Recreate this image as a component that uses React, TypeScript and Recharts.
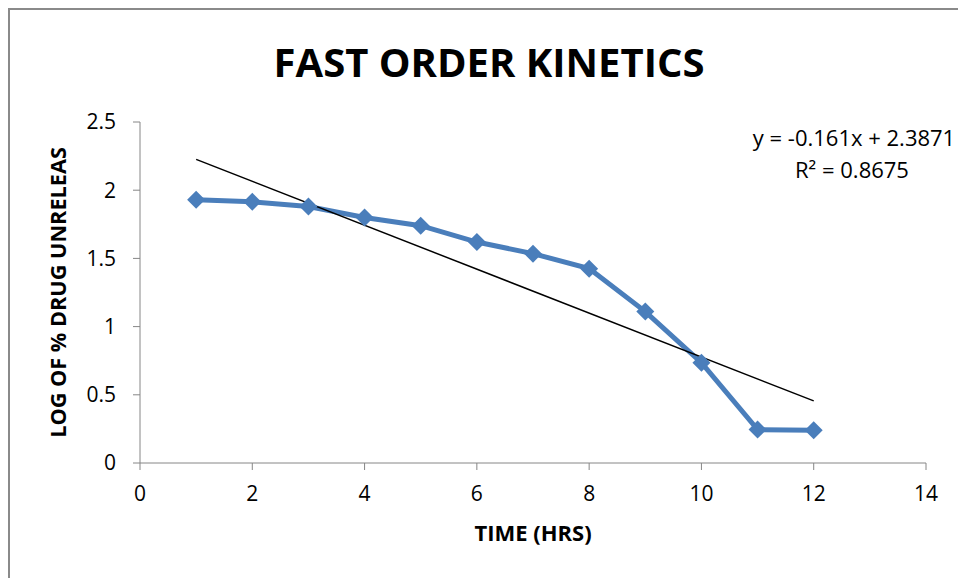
import React from "react";
import {
  ComposedChart,
  Line,
  XAxis,
  YAxis,
  ReferenceLine,
  Label,
} from "recharts";

// drug release data (log of % unreleased vs time)
const hours = [1, 2, 3, 4, 5, 6, 7, 8, 9, 10, 11, 12];
const logUnreleased = [1.93, 1.915, 1.88, 1.8, 1.74, 1.62, 1.535, 1.425, 1.11, 0.735, 0.245, 0.24];
const xTicks = [0, 2, 4, 6, 8, 10, 12, 14];
const yTicks = [0, 0.5, 1, 1.5, 2, 2.5];

// linear trendline as printed on the chart
const trendSlope = -0.161;
const trendIntercept = 2.3871;
const trendR2 = "0.8675";

const BLUE = "#4a7ebb";
const AXIS = "#868686";
const FONT = "'Open Sans', 'Liberation Sans', sans-serif";

if (typeof document !== "undefined") {
  document.body.style.margin = "0";
}

const chartData = hours.map((h, i) => ({ hour: h, value: logUnreleased[i] }));
const trendAt = (x: number) => trendIntercept + trendSlope * x;

function Diamond(props: any) {
  const { cx, cy } = props;
  if (cx == null || cy == null) return null;
  const r = 9;
  return (
    <path
      d={`M${cx},${cy - r} L${cx + r},${cy} L${cx},${cy + r} L${cx - r},${cy} Z`}
      fill={BLUE}
      stroke="none"
    />
  );
}

export default function App() {
  const W = 980;
  const H = 580;
  return (
    // outer clip: the chart frame runs past the right and bottom edges
    <div style={{ width: 958, height: 578, overflow: "hidden", position: "relative" }}>
      <div
        style={{
          position: "absolute",
          left: 8,
          top: 8,
          width: W,
          height: H,
          borderTop: "2px solid #8a8a8a",
          borderLeft: "2px solid #8a8a8a",
          background: "#fff",
          fontFamily: FONT,
        }}
      >
        <ComposedChart
          width={W}
          height={H}
          data={chartData}
          margin={{ top: 112, right: 64, bottom: 87, left: 70 }}
          accessibilityLayer={false}
        >
          <text
            x={479}
            y={67}
            textAnchor="middle"
            fontSize={40}
            fontWeight="bold"
            fontFamily={FONT}
            fill="#000"
          >
            FAST ORDER KINETICS
          </text>
          <text textAnchor="middle" fontFamily={FONT} fontSize={22} fill="#000">
            <tspan x={844} y={136}>{`y = ${trendSlope}x + ${trendIntercept}`}</tspan>
            <tspan x={842} y={168}>{`R² = ${trendR2}`}</tspan>
          </text>
          <XAxis
            dataKey="hour"
            type="number"
            domain={[0, 14]}
            ticks={xTicks}
            height={40}
            stroke={AXIS}
            tickSize={7}
            tickMargin={16}
            tick={{ fill: "#000", fontSize: 21, fontFamily: FONT }}
            interval={0}
          >
            <Label
              value="TIME (HRS)"
              position="insideBottom"
              offset={-38}
              fill="#000"
              fontSize={22}
              fontWeight="bold"
              fontFamily={FONT}
            />
          </XAxis>
          <YAxis
            type="number"
            domain={[0, 2.5]}
            ticks={yTicks}
            width={60}
            stroke={AXIS}
            tickSize={7}
            tickMargin={17}
            tick={{ fill: "#000", fontSize: 21, fontFamily: FONT }}
            interval={0}
          >
            <Label
              value="LOG OF % DRUG UNRELEAS"
              angle={-90}
              position="insideLeft"
              offset={-22}
              fill="#000"
              fontSize={21.7}
              fontWeight="bold"
              fontFamily={FONT}
              style={{ textAnchor: "middle" }}
            />
          </YAxis>
          <Line
            dataKey="value"
            stroke={BLUE}
            strokeWidth={5}
            dot={<Diamond />}
            activeDot={false}
            isAnimationActive={false}
          />
          <ReferenceLine
            segment={[
              { x: hours[0], y: trendAt(hours[0]) },
              { x: hours[hours.length - 1], y: trendAt(hours[hours.length - 1]) },
            ]}
            stroke="#000"
            strokeWidth={1.5}
          />
        </ComposedChart>
      </div>
    </div>
  );
}
